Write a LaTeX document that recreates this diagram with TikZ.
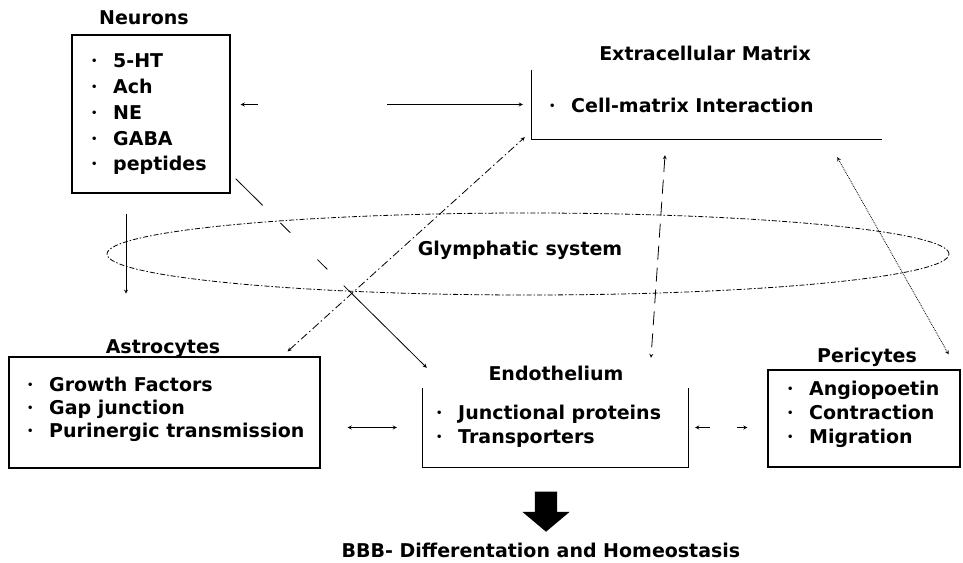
\documentclass[tikz,border=0pt]{standalone}
\usepackage{fontspec}
\setmainfont{DejaVu Sans}
\usepackage{tikz}
\usetikzlibrary{shapes,arrows,positioning,calc}

\newcommand{\bul}{\makebox[22pt][l]{\raisebox{3pt}{\fontsize{10}{10}\selectfont\textbullet}}}

\begin{document}
\begin{tikzpicture}[
    x=1pt, y=-1pt,
    box/.style={rectangle, draw, line width=1.3pt, inner sep=0pt},
    openbox/.style={rectangle, inner sep=0pt},
    side/.style={line width=1.3pt},
    title/.style={font=\fontsize{19}{23}\selectfont\bfseries, text height=14pt, text depth=0pt, inner sep=0pt},
    items/.style={font=\fontsize{19}{#1}\selectfont\bfseries, align=left, inner sep=0pt, anchor=west},
    items/.default=25pt,
    arrow/.style={->, >=stealth, line width=0.8pt},
    biarrow/.style={<->, >=stealth, line width=0.8pt}
]
\useasboundingbox (0,0) rectangle (963,562);

% Cell boxes
\node[box, minimum width=158pt, minimum height=158pt] (nrn) at (151,114) {};
\node[openbox, minimum width=350pt, minimum height=69pt] (ecm) at (707,104.5) {};
\node[box, minimum width=311pt, minimum height=111pt] (ast) at (164.5,412.5) {};
\node[openbox, minimum width=265pt, minimum height=79pt] (endo) at (555.5,427.5) {};
\node[box, minimum width=192pt, minimum height=97pt] (peri) at (864,418.5) {};

% Open sides
\draw[side] (ecm.north west) -- (ecm.south west) -- (ecm.south east);
\draw[side] (endo.north west) -- (endo.south west) -- (endo.south east) -- (endo.north east);

% Titles
\node[title] (nrnt) at (144,17.5) {Neurons};
\node[title] (ecmt) at (705,53) {Extracellular Matrix};
\node[title] (astt) at (163,346) {Astrocytes};
\node[title] (endot) at (556,373) {Endothelium};
\node[title] (perit) at (867,355) {Pericytes};

% Item lists
\node[items=25.75pt] (nrnl) at (91,114.5) {\bul 5-HT\\ \bul Ach\\ \bul NE\\ \bul GABA\\ \bul peptides};
\node[items] (ecml) at (549,105) {\bul Cell-matrix Interaction};
\node[items=23pt] (astl) at (27,409) {\bul Growth Factors\\ \bul Gap junction\\ \bul Purinergic transmission};
\node[items=24.5pt] (endol) at (436,426.5) {\bul Junctional proteins\\ \bul Transporters};
\node[items=24pt] (peril) at (787,414) {\bul Angiopoetin\\ \bul Contraction\\ \bul Migration};

% Glymphatic system
\node[draw, ellipse, minimum width=842pt, minimum height=82pt, inner sep=0pt, line width=0.8pt,
      dash pattern=on 5pt off 2pt on 1.5pt off 2pt] (glym) at (528,254) {};
\node[title] (glymt) at (520,248) {Glymphatic system};

% Arrows
\draw[biarrow, dash pattern=on 15pt off 129pt on 140pt] ($(nrn.east |- ecm.west)+(10,0)$) -- ($(ecm.west)+(-9,0)$);
\draw[arrow] ($(nrn.south)+(-25,20)$) -- ++(0,80);
\draw[arrow, dash pattern=on 38pt off 25pt on 14pt off 38pt on 14pt off 23pt on 120pt] ($(nrn.south east)+(5,-15)$) -- ($(endo.north west)+(4,-20)$);
\draw[biarrow, dash pattern=on 8pt off 3pt on 1.5pt off 3pt] ($(ast.north east)+(-33,-5)$) -- ($(ecm.south west)+(-7,-2)$);
\draw[biarrow, dash pattern=on 14pt off 8pt] ($(ecm.south)+(-42,16)$) -- ($(endo.north)+(95.5,-30)$);
\draw[biarrow, densely dotted] ($(ecm.south east)+(-45,18)$) -- ($(peri.north east)+(-12,-15)$);
\draw[biarrow] ($(ast.east |- endo.west)+(27,0)$) -- ($(endo.west)+(-26,0)$);
\draw[biarrow, dash pattern=on 12pt off 27pt on 14pt] ($(endo.east)+(7,0)$) -- ($(peri.west |- endo.east)+(-20,0)$);

% Outcome
\node[single arrow, fill=black, rotate=-90, minimum height=40pt, single arrow head extend=12.5pt,
      inner xsep=0pt, inner ysep=11pt, single arrow tip angle=100] (bbbarrow) at (546,507) {};
\node[title] (bbb) at (541,550) {BBB- Differentation and Homeostasis};
\end{tikzpicture}
\end{document}
